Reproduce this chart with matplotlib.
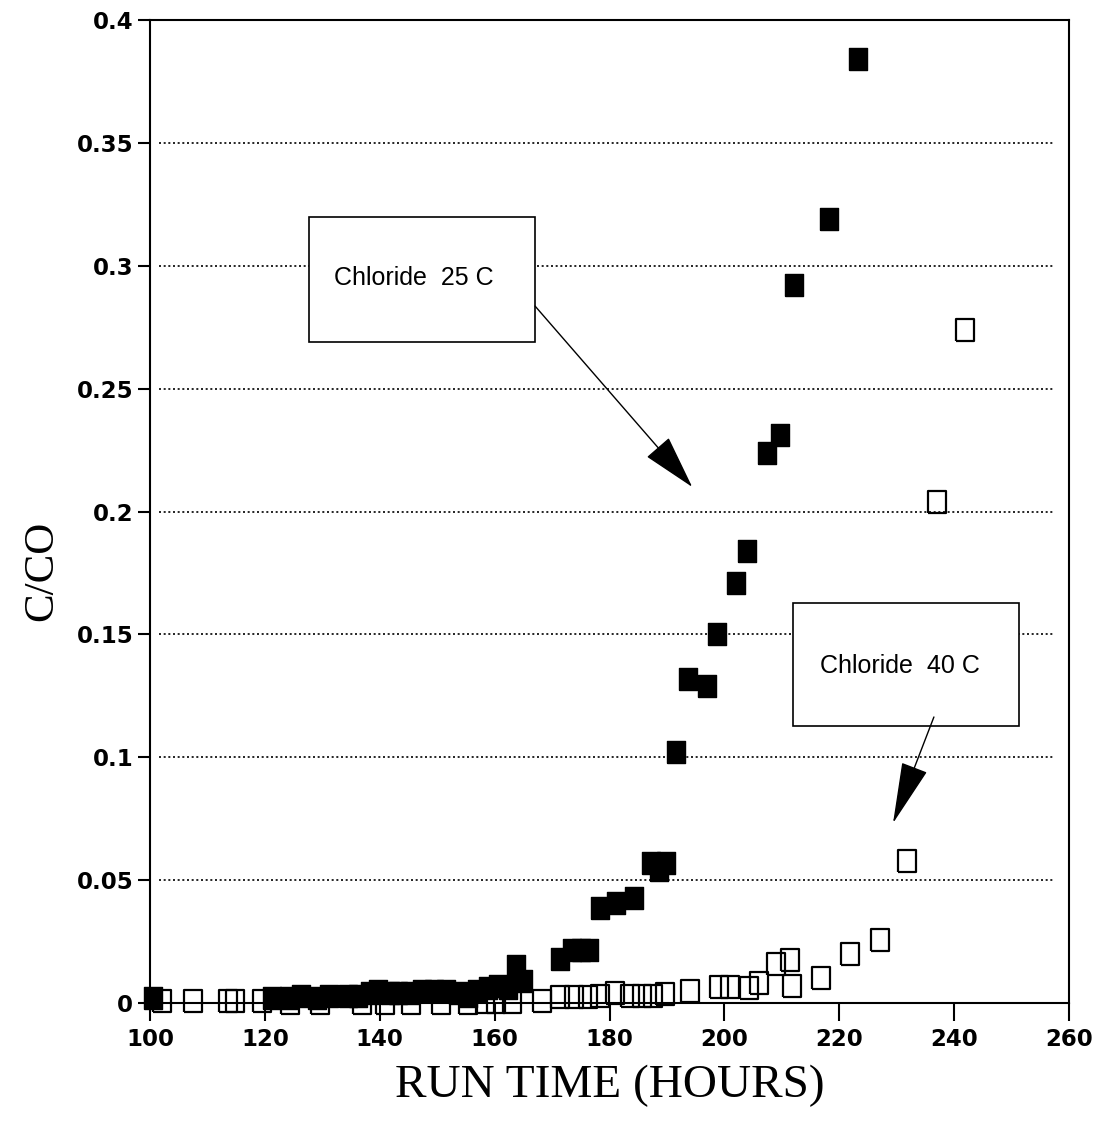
import matplotlib
matplotlib.use('Agg')
import numpy as np
import matplotlib.pyplot as plt
import matplotlib.patches as patches

# === data ===
# Chloride 25 C (filled squares)
hours_25 = [100.5, 121.2, 124.2, 126.3, 129.0, 131.2, 134.4, 136.2, 138.3, 139.7,
            141.7, 143.1, 145.2, 147.3, 149.4, 151.5, 153.6, 155.3, 157.0, 158.8,
            160.5, 162.3, 163.7, 164.9, 171.3, 173.5, 175.1, 176.5, 178.4, 181.2,
            184.2, 187.3, 188.7, 189.9, 191.5, 193.6, 197.0, 198.8, 202.1, 204.0,
            207.5, 209.6, 212.2, 218.3, 223.3]
cc0_25 = [0.002, 0.002, 0.002, 0.003, 0.002, 0.003, 0.003, 0.003, 0.004, 0.005,
          0.004, 0.004, 0.004, 0.005, 0.005, 0.005, 0.004, 0.003, 0.005, 0.006,
          0.007, 0.006, 0.015, 0.009, 0.018, 0.0215, 0.0215, 0.0215, 0.0386, 0.0406,
          0.0426, 0.057, 0.054, 0.057, 0.102, 0.132, 0.129, 0.150, 0.171, 0.184,
          0.224, 0.231, 0.292, 0.319, 0.384]

# Chloride 40 C (open squares)
hours_40 = [102.0, 107.4, 113.6, 114.8, 119.5, 124.3, 129.6, 136.9, 140.9, 145.4,
            150.6, 155.3, 158.3, 160.2, 163.1, 168.2, 171.3, 173.9, 176.2, 178.3,
            180.9, 183.5, 185.7, 187.5, 189.6, 194.1, 199.1, 201.0, 204.3, 206.1,
            208.9, 211.5, 211.8, 216.9, 221.9, 227.1, 231.8, 237.0, 241.9]
cc0_40 = [0.001, 0.001, 0.001, 0.001, 0.001, 0.0, 0.0, 0.0, 0.0, 0.0,
          0.0, 0.0, 0.0005, 0.0005, 0.0005, 0.001, 0.0024, 0.0024, 0.0024, 0.003,
          0.004, 0.003, 0.003, 0.003, 0.0037, 0.005, 0.0065, 0.0065, 0.006, 0.008,
          0.016, 0.0175, 0.007, 0.010, 0.020, 0.0256, 0.058, 0.204, 0.274]

x_ticks = [100, 120, 140, 160, 180, 200, 220, 240, 260]
y_ticks = [0, 0.05, 0.1, 0.15, 0.2, 0.25, 0.3, 0.35, 0.4]
y_tick_labels = ['0', '0.05', '0.1', '0.15', '0.2', '0.25', '0.3', '0.35', '0.4']
grid_levels = [0.05, 0.1, 0.15, 0.2, 0.25, 0.3, 0.35]

# === figure ===
fig = plt.figure(figsize=(11.08, 11.25), dpi=100)
ax = fig.add_axes([0.1354, 0.1084, 0.8294, 0.8738])

# dotted grid lines
ax.hlines(grid_levels, 101.5, 257.5, colors='black', linewidth=1.2,
          linestyles=(0, (1.2, 1.6)), zorder=1)

# rectangular square markers (slightly taller than wide, like the plot)
rect = [(-0.4, -0.5), (0.4, -0.5), (0.4, 0.5), (-0.4, 0.5), (-0.4, -0.5)]
ax.plot(hours_40, cc0_40, linestyle='none', marker=rect, markersize=16,
        markerfacecolor='none', markeredgecolor='black', markeredgewidth=1.6,
        clip_on=False, zorder=3)
ax.plot(hours_25, cc0_25, linestyle='none', marker=rect, markersize=16,
        markerfacecolor='black', markeredgecolor='black', markeredgewidth=1.0,
        clip_on=False, zorder=4)

ax.set_xlim(100, 260)
ax.set_ylim(0, 0.4)
ax.set_xticks(x_ticks)
ax.set_xticklabels([str(t) for t in x_ticks])
ax.set_yticks(y_ticks)
ax.set_yticklabels(y_tick_labels)

for s in ax.spines.values():
    s.set_linewidth(1.5)
ax.tick_params(axis='x', direction='out', length=13, width=1.5, pad=5)
ax.tick_params(axis='y', direction='out', length=9, width=1.5, pad=3)
for lab in ax.get_xticklabels() + ax.get_yticklabels():
    lab.set_family('DejaVu Sans')
    lab.set_fontsize(16.5)
    lab.set_fontweight('bold')

ax.set_xlabel('RUN TIME (HOURS)', family='Liberation Serif', fontsize=34, labelpad=10)
ax.set_ylabel('C/CO', family='Liberation Serif', fontsize=31)
ax.yaxis.set_label_coords(-0.097, 0.44)

# annotation boxes
box1 = patches.Rectangle((0.173, 0.672), 0.246, 0.128, transform=ax.transAxes,
                         facecolor='white', edgecolor='black', linewidth=1.2, zorder=5)
ax.add_patch(box1)
ax.text(0.287, 0.738, 'Chloride  25 C', transform=ax.transAxes, ha='center', va='center',
        family='Liberation Sans', fontsize=18, zorder=6)

box2 = patches.Rectangle((0.700, 0.282), 0.246, 0.125, transform=ax.transAxes,
                         facecolor='white', edgecolor='black', linewidth=1.2, zorder=5)
ax.add_patch(box2)
ax.text(0.816, 0.343, 'Chloride  40 C', transform=ax.transAxes, ha='center', va='center',
        family='Liberation Sans', fontsize=18, zorder=6)

ax.annotate('', xy=(0.590, 0.525), xytext=(0.419, 0.709), xycoords='axes fraction',
            arrowprops=dict(arrowstyle='-|>,head_length=2.2,head_width=0.6',
                            mutation_scale=16, color='black', linewidth=1.0,
                            shrinkA=0, shrinkB=0), zorder=7)
ax.annotate('', xy=(0.8085, 0.183), xytext=(0.853, 0.291), xycoords='axes fraction',
            arrowprops=dict(arrowstyle='-|>,head_length=2.5,head_width=0.55',
                            mutation_scale=16, color='black', linewidth=1.0,
                            shrinkA=0, shrinkB=0), zorder=7)

fig.savefig('out.png', dpi=100, facecolor='white')
